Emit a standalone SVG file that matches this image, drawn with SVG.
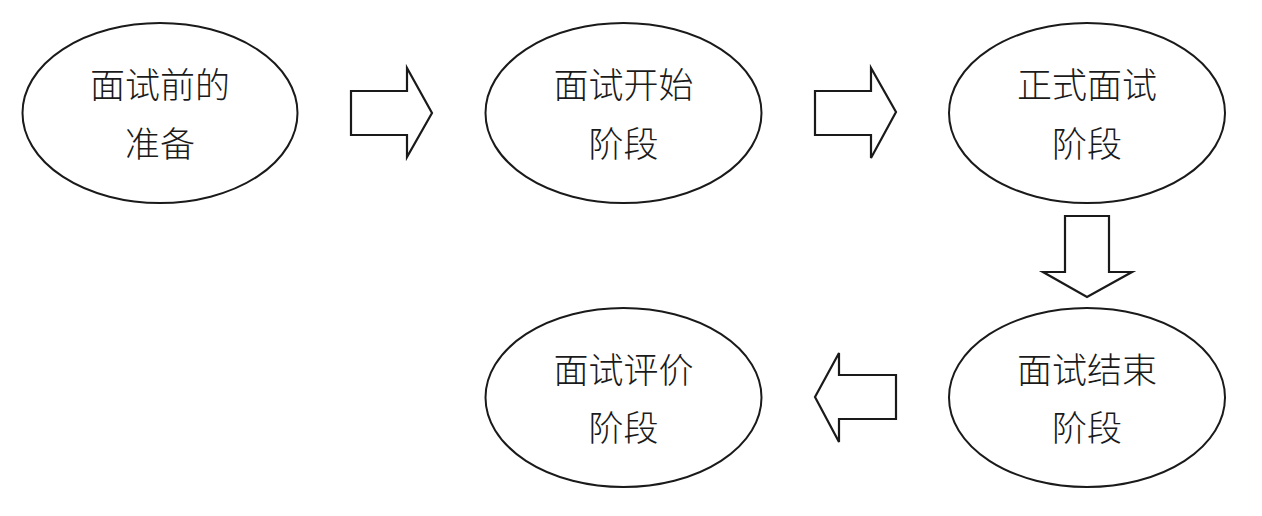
<svg xmlns="http://www.w3.org/2000/svg" width="1262" height="516" viewBox="0 0 1262 516">
<style>
.node ellipse{fill:#fff;stroke:#1a1a1a;stroke-width:2}
.node text{font-family:"Noto Sans CJK SC","Noto Sans CJK JP",sans-serif;font-size:35px;font-weight:300;fill:#1a1a1a;text-anchor:middle}
.conn path{fill:#fff;stroke:#1a1a1a;stroke-width:2.2;stroke-linejoin:miter}
</style>
<rect width="1262" height="516" fill="#fff"/>
<g id="n1" class="node">
<ellipse cx="160" cy="113" rx="137.5" ry="90"/>
<text x="160" y="98">面试前的</text>
<text x="160" y="157">准备</text>
</g>
<g id="n2" class="node">
<ellipse cx="623.5" cy="113" rx="138" ry="90"/>
<text x="623.5" y="98">面试开始</text>
<text x="623.5" y="157">阶段</text>
</g>
<g id="n3" class="node">
<ellipse cx="1087" cy="113" rx="138" ry="90"/>
<text x="1087" y="98">正式面试</text>
<text x="1087" y="157">阶段</text>
</g>
<g id="n4" class="node">
<ellipse cx="1087" cy="397.5" rx="138" ry="89.5"/>
<text x="1087" y="383">面试结束</text>
<text x="1087" y="441">阶段</text>
</g>
<g id="n5" class="node">
<ellipse cx="623.5" cy="397.5" rx="138" ry="89.5"/>
<text x="623.5" y="383">面试评价</text>
<text x="623.5" y="441">阶段</text>
</g>
<g id="connectors" class="conn">
<path d="M351,91 H407 V68 L432,113 L407,157 V135 H351 Z"/>
<path d="M815,91 H871 V68 L896,112 L871,158 V135 H815 Z"/>
<path d="M1065,216 H1109 V272 H1132 L1087,297 L1043,272 H1065 Z"/>
<path d="M896,375 H839 V353 L815,397 L839,442 V419 H896 Z"/>
</g>
</svg>
